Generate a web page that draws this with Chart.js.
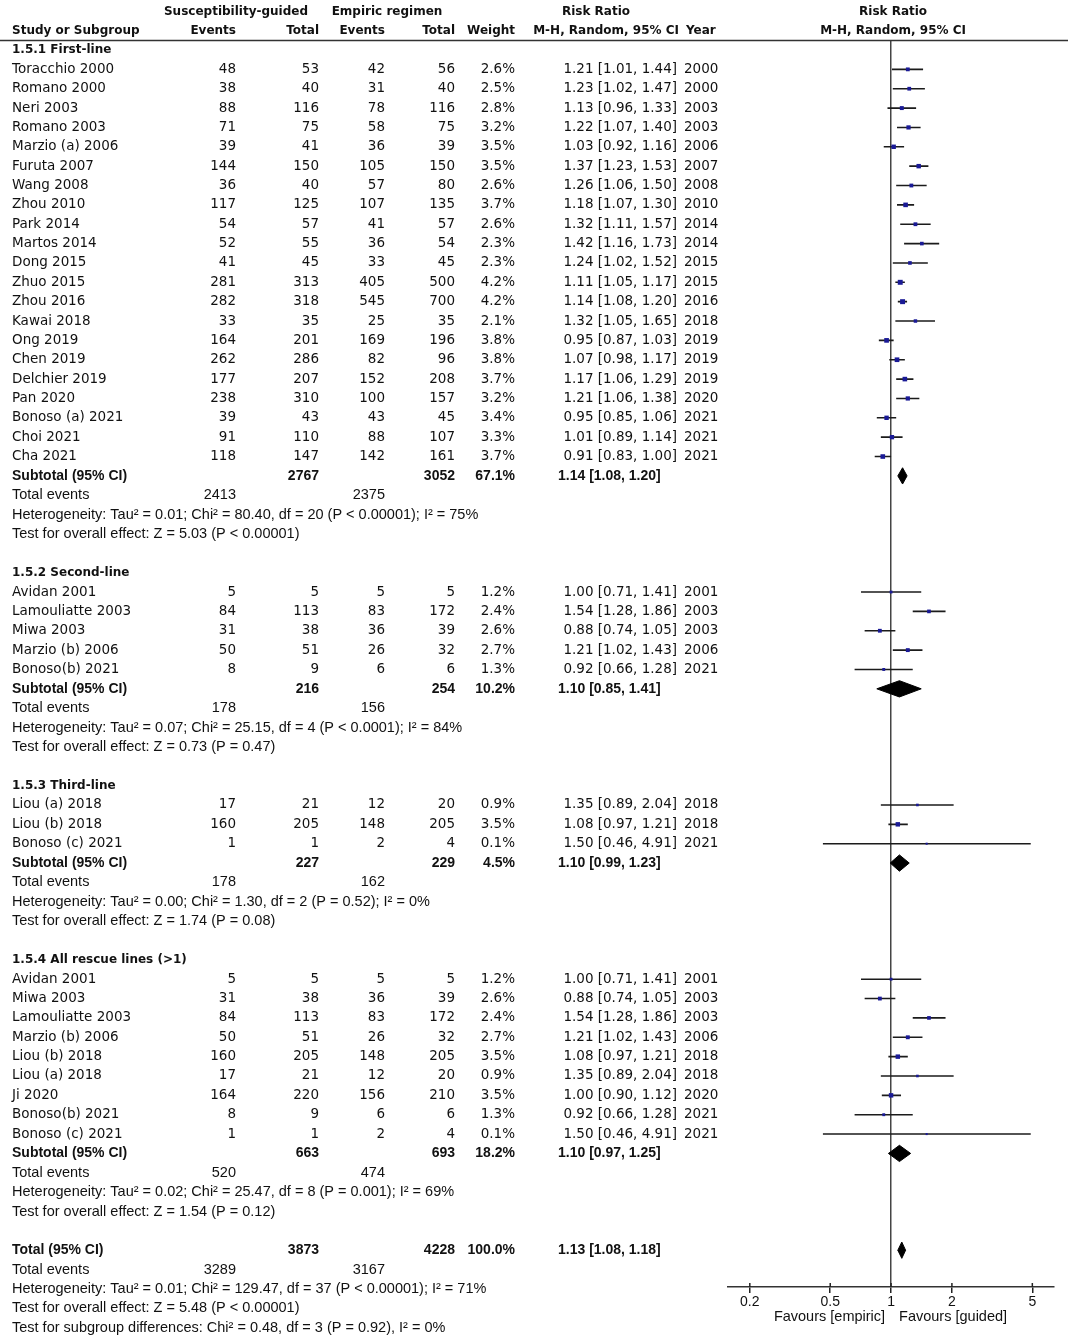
<!DOCTYPE html>
<html>
<head>
<meta charset="utf-8">
<script src="https://cdn.jsdelivr.net/npm/chart.js@4.4.1/dist/chart.umd.min.js"></script>
<style>
html, body { margin: 0; padding: 0; background: #ffffff; }
#wrap { position: relative; width: 1078px; height: 1339px; }
</style>
</head>
<body>
<div id="wrap"><canvas id="c"></canvas></div>
<script>
// ---------------- DATA ----------------
const groupTitles = ['1.5.1 First-line', '1.5.2 Second-line', '1.5.3 Third-line', '1.5.4 All rescue lines (>1)'];
const groupSizes = [21, 5, 3, 9];

const studyNames = [
  'Toracchio 2000', 'Romano 2000', 'Neri 2003', 'Romano 2003', 'Marzio (a) 2006', 'Furuta 2007', 'Wang 2008',
  'Zhou 2010', 'Park 2014', 'Martos 2014', 'Dong 2015', 'Zhuo 2015', 'Zhou 2016', 'Kawai 2018', 'Ong 2019',
  'Chen 2019', 'Delchier 2019', 'Pan 2020', 'Bonoso (a) 2021', 'Choi 2021', 'Cha 2021',
  'Avidan 2001', 'Lamouliatte 2003', 'Miwa 2003', 'Marzio (b) 2006', 'Bonoso(b) 2021',
  'Liou (a) 2018', 'Liou (b) 2018', 'Bonoso (c) 2021',
  'Avidan 2001', 'Miwa 2003', 'Lamouliatte 2003', 'Marzio (b) 2006', 'Liou (b) 2018', 'Liou (a) 2018',
  'Ji 2020', 'Bonoso(b) 2021', 'Bonoso (c) 2021'
];
const eventsGuided = [48, 38, 88, 71, 39, 144, 36, 117, 54, 52, 41, 281, 282, 33, 164, 262, 177, 238, 39, 91, 118,
  5, 84, 31, 50, 8,
  17, 160, 1,
  5, 31, 84, 50, 160, 17, 164, 8, 1];
const totalGuided = [53, 40, 116, 75, 41, 150, 40, 125, 57, 55, 45, 313, 318, 35, 201, 286, 207, 310, 43, 110, 147,
  5, 113, 38, 51, 9,
  21, 205, 1,
  5, 38, 113, 51, 205, 21, 220, 9, 1];
const eventsEmpiric = [42, 31, 78, 58, 36, 105, 57, 107, 41, 36, 33, 405, 545, 25, 169, 82, 152, 100, 43, 88, 142,
  5, 83, 36, 26, 6,
  12, 148, 2,
  5, 36, 83, 26, 148, 12, 156, 6, 2];
const totalEmpiric = [56, 40, 116, 75, 39, 150, 80, 135, 57, 54, 45, 500, 700, 35, 196, 96, 208, 157, 45, 107, 161,
  5, 172, 39, 32, 6,
  20, 205, 4,
  5, 39, 172, 32, 205, 20, 210, 6, 4];
const weights = [2.6, 2.5, 2.8, 3.2, 3.5, 3.5, 2.6, 3.7, 2.6, 2.3, 2.3, 4.2, 4.2, 2.1, 3.8, 3.8, 3.7, 3.2, 3.4, 3.3, 3.7,
  1.2, 2.4, 2.6, 2.7, 1.3,
  0.9, 3.5, 0.1,
  1.2, 2.6, 2.4, 2.7, 3.5, 0.9, 3.5, 1.3, 0.1];
const riskRatio = [1.21, 1.23, 1.13, 1.22, 1.03, 1.37, 1.26, 1.18, 1.32, 1.42, 1.24, 1.11, 1.14, 1.32, 0.95, 1.07, 1.17, 1.21, 0.95, 1.01, 0.91,
  1.00, 1.54, 0.88, 1.21, 0.92,
  1.35, 1.08, 1.50,
  1.00, 0.88, 1.54, 1.21, 1.08, 1.35, 1.00, 0.92, 1.50];
const ciLower = [1.01, 1.02, 0.96, 1.07, 0.92, 1.23, 1.06, 1.07, 1.11, 1.16, 1.02, 1.05, 1.08, 1.05, 0.87, 0.98, 1.06, 1.06, 0.85, 0.89, 0.83,
  0.71, 1.28, 0.74, 1.02, 0.66,
  0.89, 0.97, 0.46,
  0.71, 0.74, 1.28, 1.02, 0.97, 0.89, 0.90, 0.66, 0.46];
const ciUpper = [1.44, 1.47, 1.33, 1.40, 1.16, 1.53, 1.50, 1.30, 1.57, 1.73, 1.52, 1.17, 1.20, 1.65, 1.03, 1.17, 1.29, 1.38, 1.06, 1.14, 1.00,
  1.41, 1.86, 1.05, 1.43, 1.28,
  2.04, 1.21, 4.91,
  1.41, 1.05, 1.86, 1.43, 1.21, 2.04, 1.12, 1.28, 4.91];
const years = [2000, 2000, 2003, 2003, 2006, 2007, 2008, 2010, 2014, 2014, 2015, 2015, 2016, 2018, 2019, 2019, 2019, 2020, 2021, 2021, 2021,
  2001, 2003, 2003, 2006, 2021,
  2018, 2018, 2021,
  2001, 2003, 2003, 2006, 2018, 2018, 2020, 2021, 2021];

const subTotalGuided = [2767, 216, 227, 663];
const subTotalEmpiric = [3052, 254, 229, 693];
const subWeight = [67.1, 10.2, 4.5, 18.2];
const subRR = [1.14, 1.10, 1.10, 1.10];
const subLower = [1.08, 0.85, 0.99, 0.97];
const subUpper = [1.20, 1.41, 1.23, 1.25];
const subEventsGuided = [2413, 178, 178, 520];
const subEventsEmpiric = [2375, 156, 162, 474];
const subHeterogeneity = [
  'Heterogeneity: Tau² = 0.01; Chi² = 80.40, df = 20 (P < 0.00001); I² = 75%',
  'Heterogeneity: Tau² = 0.07; Chi² = 25.15, df = 4 (P < 0.0001); I² = 84%',
  'Heterogeneity: Tau² = 0.00; Chi² = 1.30, df = 2 (P = 0.52); I² = 0%',
  'Heterogeneity: Tau² = 0.02; Chi² = 25.47, df = 8 (P = 0.001); I² = 69%'
];
const subOverallEffect = [
  'Test for overall effect: Z = 5.03 (P < 0.00001)',
  'Test for overall effect: Z = 0.73 (P = 0.47)',
  'Test for overall effect: Z = 1.74 (P = 0.08)',
  'Test for overall effect: Z = 1.54 (P = 0.12)'
];

const overallTotals = [3873, 4228];
const overallWeight = 100.0;
const overallRR = [1.13, 1.08, 1.18];
const overallEvents = [3289, 3167];
const overallNotes = [
  'Heterogeneity: Tau² = 0.01; Chi² = 129.47, df = 37 (P < 0.00001); I² = 71%',
  'Test for overall effect: Z = 5.48 (P < 0.00001)',
  'Test for subgroup differences: Chi² = 0.48, df = 3 (P = 0.92), I² = 0%'
];

const axisTicks = [0.2, 0.5, 1, 2, 5];
const favoursLabels = ['Favours [empiric]', 'Favours [guided]'];
const headerTop = ['Susceptibility-guided', 'Empiric regimen', 'Risk Ratio', 'Risk Ratio'];
const headerBottom = ['Study or Subgroup', 'Events', 'Total', 'Events', 'Total', 'Weight', 'M-H, Random, 95% CI', 'Year', 'M-H, Random, 95% CI'];

// ---------------- ROW STRUCTURE ----------------
const rows = [];
let r = 0, s = 0;
groupTitles.forEach((title, g) => {
  rows.push({ kind: 'group', row: r++, text: title });
  for (let k = 0; k < groupSizes[g]; k++, s++) rows.push({ kind: 'study', row: r++, i: s });
  rows.push({ kind: 'subtotal', row: r++, g: g });
  rows.push({ kind: 'events', row: r++, a: subEventsGuided[g], b: subEventsEmpiric[g] });
  rows.push({ kind: 'note', row: r++, text: subHeterogeneity[g] });
  rows.push({ kind: 'note', row: r++, text: subOverallEffect[g] });
  r++;
});
const totalRow = r;
rows.push({ kind: 'total', row: r++ });
rows.push({ kind: 'events', row: r++, a: overallEvents[0], b: overallEvents[1] });
overallNotes.forEach(t => rows.push({ kind: 'note', row: r++, text: t }));

const studyRows = rows.filter(o => o.kind === 'study');
const subRows = rows.filter(o => o.kind === 'subtotal');

// ---------------- DATASETS ----------------
const squarePoints = studyRows.map(o => ({ x: riskRatio[o.i], y: o.row }));
const squareRadius = studyRows.map(o => 1.4 + weights[o.i] * 0.5);
const ciPoints = [];
studyRows.forEach(o => {
  ciPoints.push({ x: ciLower[o.i], y: o.row }, { x: ciUpper[o.i], y: o.row }, { x: null, y: null });
});
const DH = 0.42;
function diamond(est, lo, hi, row) {
  return [{ x: lo, y: row }, { x: est, y: row - DH }, { x: hi, y: row }, { x: est, y: row + DH }, { x: lo, y: row }];
}
const diamondSets = subRows.map(o => diamond(subRR[o.g], subLower[o.g], subUpper[o.g], o.row));
diamondSets.push(diamond(overallRR[0], overallRR[1], overallRR[2], totalRow));

const datasets = [
  { type: 'scatter', data: squarePoints, pointStyle: 'rect', pointRadius: squareRadius, pointHoverRadius: squareRadius,
    backgroundColor: '#1a1a96', borderColor: '#1a1a96', borderWidth: 0 },
  { type: 'line', data: ciPoints, borderColor: '#1b1b1b', borderWidth: 1.6, pointRadius: 0, spanGaps: false, fill: false, tension: 0 }
];
diamondSets.forEach(d => datasets.push({
  type: 'line', data: d, borderColor: '#000', backgroundColor: '#000', borderWidth: 1, pointRadius: 0, fill: 'shape', tension: 0
}));

// ---------------- TEXT PLUGIN ----------------
const F_HEAD = 'bold 12px "DejaVu Sans"';
const F_ROW = '13.5px "DejaVu Sans"';
const F_NOTE = '14.5px "Liberation Sans"';
const F_NOTE_B = 'bold 14px "Liberation Sans"';
const COL = { name: 12, evG: 236, totG: 319, evE: 385, totE: 455, wt: 515, rr: 677, rrL: 558, yr: 684 };

function put(ctx, s, x, y, align, font) {
  ctx.font = font; ctx.textAlign = align; ctx.fillText(String(s), x, y);
}
function rrText(a, b, c) { return a.toFixed(2) + ' [' + b.toFixed(2) + ', ' + c.toFixed(2) + ']'; }

const tablePlugin = {
  id: 'tablePlugin',
  afterDraw(chart) {
    const ctx = chart.ctx;
    const ys = chart.scales.y, xs = chart.scales.x;
    ctx.save();
    ctx.fillStyle = '#111';
    ctx.textBaseline = 'middle';
    const plotCenter = xs.getPixelForValue(1) + 2;
    // headers
    put(ctx, headerTop[0], 236, 12, 'center', F_HEAD);
    put(ctx, headerTop[1], 387, 12, 'center', F_HEAD);
    put(ctx, headerTop[2], 596, 12, 'center', F_HEAD);
    put(ctx, headerTop[3], plotCenter, 12, 'center', F_HEAD);
    put(ctx, headerBottom[0], COL.name, 31, 'left', F_HEAD);
    put(ctx, headerBottom[1], COL.evG, 31, 'right', F_HEAD);
    put(ctx, headerBottom[2], COL.totG, 31, 'right', F_HEAD);
    put(ctx, headerBottom[3], COL.evE, 31, 'right', F_HEAD);
    put(ctx, headerBottom[4], COL.totE, 31, 'right', F_HEAD);
    put(ctx, headerBottom[5], COL.wt, 31, 'right', F_HEAD);
    put(ctx, headerBottom[6], 679, 31, 'right', F_HEAD);
    put(ctx, headerBottom[7], COL.yr + 2, 31, 'left', F_HEAD);
    put(ctx, headerBottom[8], plotCenter, 31, 'center', F_HEAD);
    // header rule
    ctx.strokeStyle = '#333'; ctx.lineWidth = 1.5;
    ctx.beginPath(); ctx.moveTo(0, 40.5); ctx.lineTo(1068, 40.5); ctx.stroke();

    rows.forEach(o => {
      const y = ys.getPixelForValue(o.row);
      if (o.kind === 'group') {
        put(ctx, o.text, COL.name, y, 'left', F_HEAD);
      } else if (o.kind === 'study') {
        const i = o.i;
        put(ctx, studyNames[i], COL.name, y, 'left', F_ROW);
        put(ctx, eventsGuided[i], COL.evG, y, 'right', F_ROW);
        put(ctx, totalGuided[i], COL.totG, y, 'right', F_ROW);
        put(ctx, eventsEmpiric[i], COL.evE, y, 'right', F_ROW);
        put(ctx, totalEmpiric[i], COL.totE, y, 'right', F_ROW);
        put(ctx, weights[i].toFixed(1) + '%', COL.wt, y, 'right', F_ROW);
        put(ctx, rrText(riskRatio[i], ciLower[i], ciUpper[i]), COL.rr, y, 'right', F_ROW);
        put(ctx, years[i], COL.yr, y, 'left', F_ROW);
      } else if (o.kind === 'subtotal') {
        const g = o.g;
        put(ctx, 'Subtotal (95% CI)', COL.name, y, 'left', F_NOTE_B);
        put(ctx, subTotalGuided[g], COL.totG, y, 'right', F_NOTE_B);
        put(ctx, subTotalEmpiric[g], COL.totE, y, 'right', F_NOTE_B);
        put(ctx, subWeight[g].toFixed(1) + '%', COL.wt, y, 'right', F_NOTE_B);
        put(ctx, rrText(subRR[g], subLower[g], subUpper[g]), COL.rrL, y, 'left', F_NOTE_B);
      } else if (o.kind === 'total') {
        put(ctx, 'Total (95% CI)', COL.name, y, 'left', F_NOTE_B);
        put(ctx, overallTotals[0], COL.totG, y, 'right', F_NOTE_B);
        put(ctx, overallTotals[1], COL.totE, y, 'right', F_NOTE_B);
        put(ctx, overallWeight.toFixed(1) + '%', COL.wt, y, 'right', F_NOTE_B);
        put(ctx, rrText(overallRR[0], overallRR[1], overallRR[2]), COL.rrL, y, 'left', F_NOTE_B);
      } else if (o.kind === 'events') {
        put(ctx, 'Total events', COL.name, y, 'left', F_NOTE);
        put(ctx, o.a, COL.evG, y, 'right', F_NOTE);
        put(ctx, o.b, COL.evE, y, 'right', F_NOTE);
      } else if (o.kind === 'note') {
        put(ctx, o.text, COL.name, y, 'left', F_NOTE);
      }
    });
    // upper half of the axis tick marks (ticks cross the axis line)
    ctx.strokeStyle = '#222'; ctx.lineWidth = 1.5;
    const axisY = xs.top;
    axisTicks.forEach(v => {
      const px = xs.getPixelForValue(v);
      ctx.beginPath(); ctx.moveTo(px, axisY - 4); ctx.lineTo(px, axisY); ctx.stroke();
    });
    // favours labels
    const x1 = xs.getPixelForValue(1);
    put(ctx, favoursLabels[0], x1 - 6, 1317, 'right', F_NOTE);
    put(ctx, favoursLabels[1], x1 + 8, 1317, 'left', F_NOTE);
    ctx.restore();
  }
};

// ---------------- CHART ----------------
new Chart(document.getElementById('c'), {
  type: 'scatter',
  data: { datasets: datasets },
  options: {
    responsive: true,
    maintainAspectRatio: false,
    animation: false,
    events: [],
    layout: { padding: { left: 728, right: 24, top: 41, bottom: 0 } },
    plugins: { legend: { display: false }, tooltip: { enabled: false } },
    scales: {
      x: {
        type: 'logarithmic', min: 0.156, max: 6.4, position: 'bottom',
        afterBuildTicks: (sc) => { sc.ticks = axisTicks.map(v => ({ value: v })); },
        afterFit: (sc) => { sc.height = 52; },
        ticks: { autoSkip: false, maxRotation: 0, padding: 1, color: '#111',
          font: { family: 'Liberation Sans', size: 14 },
          callback: (v) => String(v) },
        grid: {
          color: (c) => (c.tick && c.tick.value === 1) ? '#444' : 'rgba(0,0,0,0)',
          lineWidth: 1.5, tickColor: '#222', tickLength: 6
        },
        border: { color: '#333', width: 1.5 }
      },
      y: { type: 'linear', reverse: true, min: -0.465, max: 63.9, display: false }
    }
  },
  plugins: [tablePlugin]
});
</script>
</body>
</html>
